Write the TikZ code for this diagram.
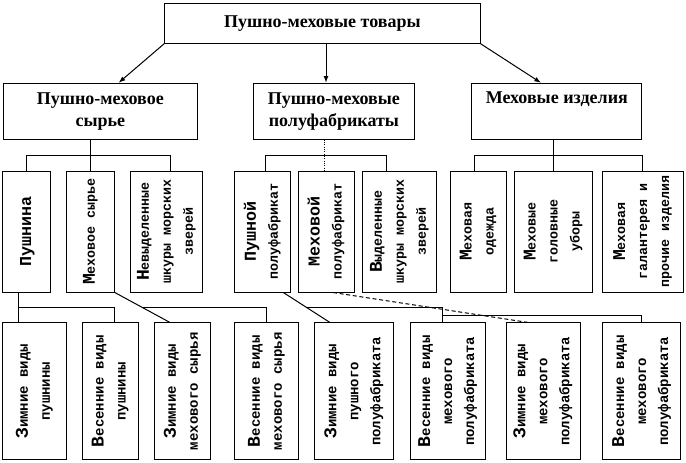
\documentclass[tikz,border=0pt]{standalone}
\usepackage{fontspec}
\setmainfont{Liberation Serif}
\newfontfamily\monofnt{Liberation Mono}
\usepackage{graphicx}
\usepackage{tikz}
\usetikzlibrary{arrows.meta}

\newcommand{\bigch}[1]{{\fontsize{13.5}{13.5}\selectfont #1}}
\newcommand{\bigw}[1]{{\fontsize{12.5}{12.5}\selectfont #1}}
\newcommand{\vtext}[2][10]{\rotatebox{90}{\monofnt\bfseries\fontsize{#1}{16.5}\selectfont\begin{tabular}{@{}c@{}}#2\end{tabular}}}

\begin{document}
\begin{tikzpicture}[x=0.75pt,y=-0.75pt,line width=0.75pt,
box/.style={draw,inner sep=0pt,align=center},
headbox/.style={box,font=\bfseries\fontsize{13.5}{16.3}\selectfont},
lvtwo/.style={box,minimum height=90.75pt},
lvthree/.style={box,minimum height=102.4pt},
arr/.style={-{Latex[length=5pt,width=3.6pt]}}]

\useasboundingbox (0,0) rectangle (686,462);


\node[headbox,minimum width=236.7pt,minimum height=30pt] (goods) at (322.4,23.3) {Пушно-меховые товары};


\node[headbox,minimum width=145.1pt,minimum height=42pt] (raw) at (100.3,111.3) {Пушно-меховое\\сырье};

\node[headbox,minimum width=121.3pt,minimum height=42pt] (semi) at (333.9,111.3) {Пушно-меховые\\полуфабрикаты};

\node[headbox,minimum width=127.5pt,minimum height=42pt,text depth=20pt] (prod) at (556.8,111.3) {Меховые изделия};


\foreach \nm/\cx/\bw/\txt in {
fur/26.7/36/{\bigw{Пушнина}},
hide/90.5/35.7/{\bigch{М}еховое сырье},
sea1/166.5/53.7/{\bigch{Н}евыделенные\\шкуры морских\\зверей},
pfur/262.5/42.2/{\bigw{Пушной}\\полуфабрикат},
phide/326.3/42.4/{\bigw{Меховой}\\полуфабрикат},
sea2/399.5/55.5/{\bigch{В}ыделенные\\шкуры морских\\зверей},
coat/478.3/42.4/{\bigch{М}еховая\\одежда},
hats/553.2/58.7/{\bigch{М}еховые\\головные\\уборы},
gal/642.8/60.75/{\bigch{М}еховая\\галантерея и\\прочие изделия}}
\node[lvtwo,minimum width=\bw pt] (\nm) at (\cx,231.5) {\vtext{\txt}};


\foreach \nm/\cx/\bw/\txt in {
a/34.35/47.5/{\bigch{З}имние виды\\пушнины},
b/110.3/42/{\bigch{В}есенние виды\\пушнины},
c/182.35/42.5/{\bigch{З}имние виды\\мехового сырья},
d/266.4/48.2/{\bigch{В}есенние виды\\мехового сырья},
e/353.9/59.4/{\bigch{З}имние виды\\пушного\\полуфабриката},
f/447.75/55.9/{\bigch{В}есенние виды\\мехового\\полуфабриката},
g/543/55.5/{\bigch{З}имние виды\\мехового\\полуфабриката},
h/641.65/59/{\bigch{В}есенние виды\\мехового\\полуфабриката}}
\node[lvthree,minimum width=\bw pt] (\nm) at (\cx,391.25) {\vtext[10.5]{\txt}};


\coordinate (brA) at (0,155);
\coordinate (brB) at (0,307.5);
\coordinate (brC) at (0,315);


\coordinate (rawin) at ([shift={(18.3,0)}]raw.north);
\coordinate (semiin) at ([shift={(-7.9,0)}]semi.north);
\coordinate (prodin) at ([shift={(-15.8,0)}]prod.north);

\draw[arr] (goods.south west) -- (rawin);
\draw[arr] (semiin |- goods.south) -- (semiin);
\draw[arr] (goods.south east) -- (prodin);


\coordinate (sea1in) at ([shift={(3.5,0)}]sea1.north);
\draw (hide.north |- raw.south) -- (hide.north);
\draw (fur.north) |- (sea1in |- brA) -- (sea1in);


\coordinate (pfurin) at ([shift={(3.2,0)}]pfur.north);
\coordinate (sea2in) at ([shift={(-12.8,0)}]sea2.north);
\coordinate (phidein) at ([shift={(-2,0)}]phide.north);
\draw (pfurin) |- (sea2in |- brA) -- (sea2in);
\draw[densely dotted] (phidein |- semi.south) -- (phidein);


\coordinate (coatin) at ([shift={(-4,0)}]coat.north);
\draw (hats.north |- prod.south) -- (hats.north);
\draw (coatin) |- (gal.north |- brA) -- (gal.north);


\coordinate (furout) at ([shift={(-8.4,0)}]fur.south);
\coordinate (bin) at ([shift={(4,0)}]b.north);
\draw (furout) -- (furout |- a.north);
\draw (furout |- brB) -| (bin);


\coordinate (cin) at ([shift={(-12.35,0)}]c.north);
\draw (hide.south east) -- coordinate (hidemid) (cin);
\draw (hidemid) -| (d.north);


\coordinate (pfurout) at ([shift={(20.8,0)}]pfur.south);
\coordinate (ein) at ([shift={(-23.9,0)}]e.north);
\coordinate (fin) at ([shift={(-5,0)}]f.north);
\draw (pfurout) -- coordinate (pfurmid) (ein);
\draw (pfurmid) -| (fin);
\draw (fin |- brC) -| (h.north);


\coordinate (phideout) at ([shift={(6.7,0)}]phide.south);
\coordinate (gin) at ([shift={(-14.7,0)}]g.north);
\draw[densely dashed] (phideout) -- (gin);

\end{tikzpicture}
\end{document}
